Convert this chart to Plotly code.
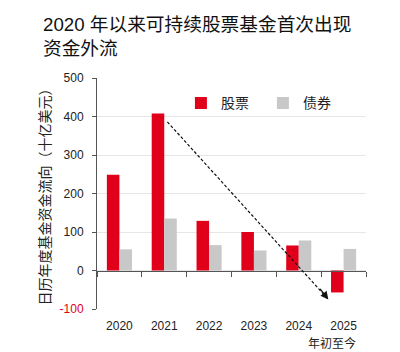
import plotly.graph_objects as go

years = ["2020", "2021", "2022", "2023", "2024", "2025"]
stocks = [249, 408, 129, 100, 65, -57]
bonds = [55, 135, 66, 52, 78, 56]
ytick_vals = [-100, 0, 100, 200, 300, 400, 500]
ytick_text = ['<span style="color:#E0001A">-100</span>', "0", "100", "200", "300", "400", "500"]
arrow_start = (1.07, 386)
arrow_end = (4.66, -75)
arrow_head_from = (4.45, -44)

RED = "#E0001A"
GRAY = "#C8C8C8"
FONT = "Liberation Sans, Arial, Noto Sans CJK SC, sans-serif"

fig = go.Figure()
fig.add_trace(go.Bar(x=years, y=stocks, name="股票", marker=dict(color=RED, line_width=0)))
fig.add_trace(go.Bar(x=years, y=bonds, name="债券", marker=dict(color=GRAY, line_width=0)))

fig.update_layout(
    width=400, height=352,
    margin=dict(l=97, r=34, t=78, b=43),
    paper_bgcolor="white", plot_bgcolor="white",
    font=dict(family=FONT, size=12, color="#222"),
    barmode="group", bargap=0.44, bargroupgap=0,
    title=dict(text="2020 年以来可持续股票基金首次出现<br>资金外流",
               x=43/400, xanchor="left", xref="container",
               y=1-31/352, yanchor="top", yref="container",
               font=dict(size=18.7, color="#111", family=FONT)),
    legend=dict(orientation="h", x=0.312, y=0.89, xanchor="left", yanchor="middle",
                font=dict(size=14, color="#222"), bgcolor="rgba(0,0,0,0)",
                itemwidth=30, entrywidth=37, tracegroupgap=0),
    showlegend=True,
)
fig.update_xaxes(type="category", showgrid=False, showline=False, ticks="",
                 ticklabelstandoff=8,
                 tickfont=dict(size=12, color="#222"))
fig.update_yaxes(range=[-100, 500], tickvals=ytick_vals, ticktext=ytick_text,
                 showgrid=True, gridcolor="#E6E6E6", gridwidth=1,
                 showline=True, linecolor="#555", linewidth=1,
                 ticks="outside", ticklen=4, tickcolor="#555",
                 zeroline=False, ticklabelstandoff=6,
                 tickfont=dict(size=12, color="#222"),
                 title=dict(text="日历年度基金资金流向（十亿美元）" + "\u00a0" * 6,
                            font=dict(size=14, color="#222"), standoff=5))

# zero axis with ticks at category boundaries
fig.update_layout(xaxis2=dict(overlaying="x", matches="x", type="category", anchor="free",
                              position=100/600, showline=True, linecolor="#555", linewidth=1,
                              ticks="outside", ticklen=5, tickcolor="#555", tickson="boundaries",
                              showticklabels=False, showgrid=False, side="bottom"))
fig.add_trace(go.Scatter(x=years, y=[0]*len(years), xaxis="x2", mode="none", showlegend=False, hoverinfo="skip"))

# dashed trend arrow
fig.add_shape(type="line", xref="x", yref="y",
              x0=arrow_start[0], y0=arrow_start[1], x1=arrow_end[0], y1=arrow_end[1],
              line=dict(color="#111", width=1.2, dash="3px,2px"))
fig.add_annotation(x=arrow_end[0], y=arrow_end[1], ax=arrow_head_from[0], ay=arrow_head_from[1],
                   xref="x", yref="y", axref="x", ayref="y", text="", showarrow=True,
                   arrowhead=2, arrowsize=1.3, arrowwidth=1.2, arrowcolor="#111")
fig.add_annotation(x=5, y=0, xref="x", yref="paper", text="年初至今", showarrow=False,
                   xanchor="right", yanchor="middle", xshift=14, yshift=-34,
                   font=dict(size=12, color="#222"))

fig.write_html("out.html")
